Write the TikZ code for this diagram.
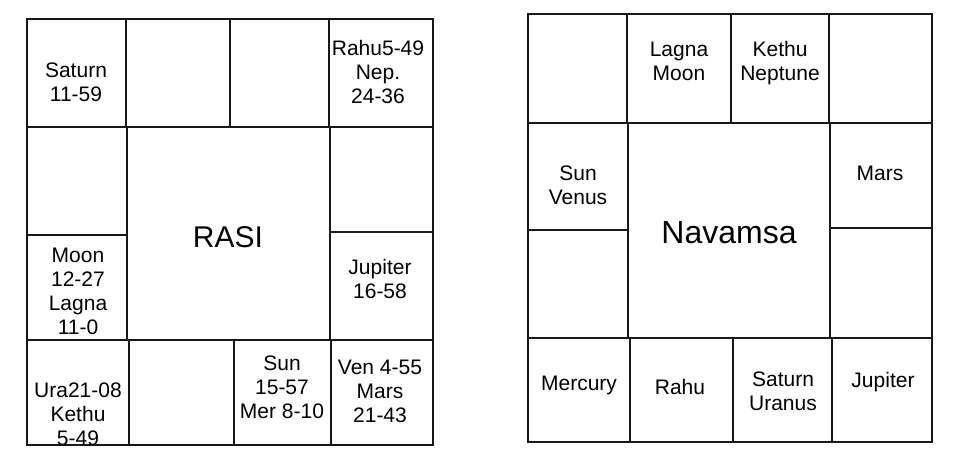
\documentclass[tikz,border=0pt]{standalone}
\usepackage{fontspec}
\setmainfont{Liberation Sans}
\begin{document}
\begin{tikzpicture}[x=1pt,y=-1pt,
  grid/.style={line width=2.8pt, line cap=rect, black!90},
  lbl/.style={align=center, inner sep=0pt, font=\fontsize{21}{24}\selectfont},
  title/.style={inner sep=0pt, font=\fontsize{30}{34}\selectfont}]
\useasboundingbox (0,0) rectangle (958,470);
% ---------- RASI chart ----------
\draw[grid] (27,19) rectangle (433,445);
\draw[grid] (126,19) -- (126,127);
\draw[grid] (230,19) -- (230,127);
\draw[grid] (329,19) -- (329,127);
\draw[grid] (27,127) -- (433,127);
\draw[grid] (127,127) -- (127,340);
\draw[grid] (27,235) -- (127,235);
\draw[grid] (330,127) -- (330,340);
\draw[grid] (330,232) -- (433,232);
\draw[grid] (27,340) -- (433,340);
\draw[grid] (129,340) -- (129,445);
\draw[grid] (234,340) -- (234,445);
\draw[grid] (331,340) -- (331,445);
\node[lbl] (sat) at (76,82) {Saturn\\11-59};
\node[lbl] (rahu) at (378,72) {Rahu5-49\\Nep.\\24-36};
\node[lbl] (moon) at (78,291) {Moon\\12-27\\Lagna\\11-0};
\node[lbl] (jup) at (380,279) {Jupiter\\16-58};
\node[lbl] (ura) at (78,414) {Ura21-08\\Kethu\\5-49};
\node[lbl] (sun) at (282,387) {Sun\\15-57\\Mer 8-10};
\node[lbl] (ven) at (380,391) {Ven 4-55\\Mars\\21-43};
\node[title] (rasi) at (228,237) {RASI};
% ---------- Navamsa chart ----------
\draw[grid] (528,14) rectangle (932,442);
\draw[grid] (627,14) -- (627,123);
\draw[grid] (731,14) -- (731,123);
\draw[grid] (829,14) -- (829,123);
\draw[grid] (528,123) -- (932,123);
\draw[grid] (628,123) -- (628,338);
\draw[grid] (528,230) -- (628,230);
\draw[grid] (830,123) -- (830,338);
\draw[grid] (830,228) -- (932,228);
\draw[grid] (528,338) -- (932,338);
\draw[grid] (630,338) -- (630,442);
\draw[grid] (733,338) -- (733,442);
\draw[grid] (832,338) -- (832,442);
\node[lbl] (nlag) at (679,61) {Lagna\\Moon};
\node[lbl] (nket) at (780,63) {Kethu\\Neptune};
\node[lbl] (nsun) at (578,185) {Sun\\Venus};
\node[lbl] (nmars) at (880,173) {Mars};
\node[lbl] (nmer) at (579,385) {Mercury};
\node[lbl] (nrahu) at (680,387) {Rahu};
\node[lbl] (nsat) at (783,391) {Saturn\\Uranus};
\node[lbl] (njup) at (883,382) {Jupiter};
\node[title, font=\fontsize{32}{36}\selectfont] (nav) at (729,233) {Navamsa};
\end{tikzpicture}
\end{document}
